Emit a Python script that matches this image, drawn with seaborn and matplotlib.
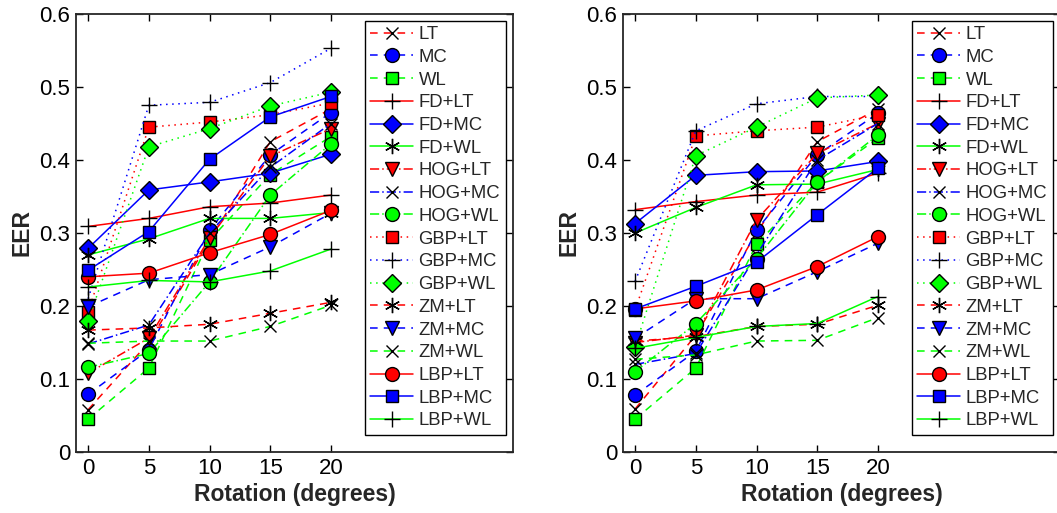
import matplotlib
matplotlib.use("Agg")
import matplotlib.pyplot as plt
import seaborn as sns
import pandas as pd
import numpy as np

rotation = [0, 5, 10, 15, 20]

labels = ["LT", "MC", "WL", "FD+LT", "FD+MC", "FD+WL", "HOG+LT", "HOG+MC", "HOG+WL",
          "GBP+LT", "GBP+MC", "GBP+WL", "ZM+LT", "ZM+MC", "ZM+WL", "LBP+LT", "LBP+MC", "LBP+WL"]

# Left panel EER values
left_LT     = [0.058, 0.150, 0.290, 0.425, 0.470]
left_MC     = [0.079, 0.140, 0.304, 0.407, 0.465]
left_WL     = [0.045, 0.115, 0.290, 0.380, 0.432]
left_FD_LT  = [0.309, 0.320, 0.336, 0.341, 0.352]
left_FD_MC  = [0.279, 0.359, 0.370, 0.382, 0.408]
left_FD_WL  = [0.270, 0.292, 0.320, 0.320, 0.328]
left_HOG_LT = [0.108, 0.156, 0.293, 0.405, 0.443]
left_HOG_MC = [0.148, 0.174, 0.300, 0.390, 0.450]
left_HOG_WL = [0.116, 0.135, 0.233, 0.352, 0.422]
left_GBP_LT = [0.192, 0.445, 0.452, 0.462, 0.478]
left_GBP_MC = [0.210, 0.475, 0.479, 0.506, 0.553]
left_GBP_WL = [0.180, 0.418, 0.443, 0.474, 0.493]
left_ZM_LT  = [0.167, 0.170, 0.175, 0.190, 0.205]
left_ZM_MC  = [0.199, 0.236, 0.243, 0.281, 0.327]
left_ZM_WL  = [0.149, 0.152, 0.152, 0.172, 0.201]
left_LBP_LT = [0.240, 0.245, 0.273, 0.298, 0.331]
left_LBP_MC = [0.249, 0.302, 0.401, 0.459, 0.487]
left_LBP_WL = [0.226, 0.235, 0.233, 0.248, 0.278]

# Right panel EER values
right_LT     = [0.059, 0.160, 0.300, 0.425, 0.470]
right_MC     = [0.078, 0.138, 0.304, 0.407, 0.464]
right_WL     = [0.045, 0.115, 0.285, 0.370, 0.430]
right_FD_LT  = [0.332, 0.343, 0.352, 0.356, 0.382]
right_FD_MC  = [0.313, 0.379, 0.384, 0.385, 0.398]
right_FD_WL  = [0.300, 0.335, 0.366, 0.367, 0.387]
right_HOG_LT = [0.150, 0.160, 0.318, 0.409, 0.450]
right_HOG_MC = [0.120, 0.135, 0.270, 0.400, 0.450]
right_HOG_WL = [0.110, 0.176, 0.265, 0.370, 0.434]
right_GBP_LT = [0.195, 0.433, 0.440, 0.445, 0.462]
right_GBP_MC = [0.234, 0.440, 0.477, 0.487, 0.487]
right_GBP_WL = [0.144, 0.406, 0.445, 0.485, 0.489]
right_ZM_LT  = [0.152, 0.158, 0.172, 0.175, 0.201]
right_ZM_MC  = [0.156, 0.210, 0.210, 0.247, 0.286]
right_ZM_WL  = [0.127, 0.133, 0.152, 0.153, 0.184]
right_LBP_LT = [0.196, 0.207, 0.222, 0.254, 0.295]
right_LBP_MC = [0.196, 0.227, 0.260, 0.325, 0.389]
right_LBP_WL = [0.142, 0.157, 0.172, 0.176, 0.213]

left_series = [left_LT, left_MC, left_WL, left_FD_LT, left_FD_MC, left_FD_WL,
               left_HOG_LT, left_HOG_MC, left_HOG_WL, left_GBP_LT, left_GBP_MC, left_GBP_WL,
               left_ZM_LT, left_ZM_MC, left_ZM_WL, left_LBP_LT, left_LBP_MC, left_LBP_WL]
right_series = [right_LT, right_MC, right_WL, right_FD_LT, right_FD_MC, right_FD_WL,
                right_HOG_LT, right_HOG_MC, right_HOG_WL, right_GBP_LT, right_GBP_MC, right_GBP_WL,
                right_ZM_LT, right_ZM_MC, right_ZM_WL, right_LBP_LT, right_LBP_MC, right_LBP_WL]

RED, BLUE, GREEN = "#ff0000", "#0000ff", "#00ff00"
AST = (6, 2, 0)
DASH = (0, (5, 4))
DASHDOT = (0, (6, 2, 1, 2))
DOT = (0, (1, 3))
# (line color, linestyle, marker, marker face)
styles = [
    (RED, DASH, "x", "none"),
    (BLUE, DASH, "o", BLUE),
    (GREEN, DASH, "s", GREEN),
    (RED, "-", "+", "none"),
    (BLUE, "-", "D", BLUE),
    (GREEN, "-", AST, "none"),
    (RED, DASHDOT, "v", RED),
    (BLUE, DASHDOT, "x", "none"),
    (GREEN, DASHDOT, "o", GREEN),
    (RED, DOT, "s", RED),
    (BLUE, DOT, "+", "none"),
    (GREEN, DOT, "D", GREEN),
    (RED, DASH, AST, "none"),
    (BLUE, DASH, "v", BLUE),
    (GREEN, DASH, "x", "none"),
    (RED, "-", "o", RED),
    (BLUE, "-", "s", BLUE),
    (GREEN, "-", "+", "none"),
]
msizes = {"x": 8.5, "o": 10, "s": 8.5, "+": 12, "D": 9, "v": 10, AST: 11}

sns.set_style("white")
plt.rcParams["font.family"] = ["Liberation Sans", "DejaVu Sans"]

fig = plt.figure(figsize=(10.57, 5.13), dpi=100)
ax1 = fig.add_axes([76 / 1057, 1 - 452 / 513, 437 / 1057, 438 / 513])
ax2 = fig.add_axes([623 / 1057, 1 - 452 / 513, 437 / 1057, 438 / 513])

for ax, series in [(ax1, left_series), (ax2, right_series)]:
    for lab, vals, (col, ls, mk, mf) in zip(labels, series, styles):
        df = pd.DataFrame({"Rotation": rotation, "EER": vals})
        sns.lineplot(data=df, x="Rotation", y="EER", ax=ax, color=col, linestyle=ls,
                     linewidth=1.1, marker=mk, markersize=msizes[mk], markerfacecolor=mf,
                     markeredgecolor="black", markeredgewidth=1.0, label=lab,
                     errorbar=None, sort=False)
    ax.set_xlim(-1, 35)
    ax.set_ylim(0, 0.6)
    ax.set_xticks(rotation)
    ax.set_yticks([0, 0.1, 0.2, 0.3, 0.4, 0.5, 0.6])
    ax.set_yticklabels(["0", "0.1", "0.2", "0.3", "0.4", "0.5", "0.6"])
    ax.tick_params(direction="in", length=5, width=1, labelsize=16, top=True, right=True,
                   bottom=True, left=True, colors="black", pad=4)
    for sp in ax.spines.values():
        sp.set_visible(True)
        sp.set_color("#262626")
        sp.set_linewidth(1.3)
    ax.set_xlabel("Rotation (degrees)", fontsize=16.5, fontweight="bold", labelpad=3)
    ax.set_ylabel("EER", fontsize=16.5, fontweight="bold", labelpad=4)
    leg = ax.legend(loc="upper left", bbox_to_anchor=(0.661, 0.985), fontsize=13.3,
                    frameon=True, fancybox=False, edgecolor="black", framealpha=1,
                    handlelength=2.3, handletextpad=0.3, labelspacing=0.31,
                    borderpad=0.3, borderaxespad=0)
    leg.get_frame().set_linewidth(1.0)

fig.savefig("out.png", dpi=100)
